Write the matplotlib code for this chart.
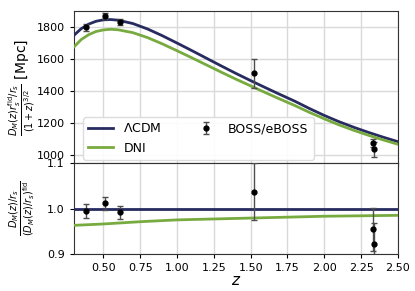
import numpy as np
import matplotlib
matplotlib.use("Agg")
from matplotlib import pyplot as plt

# curves
z_curve = [0.30, 0.35, 0.40, 0.45, 0.50, 0.55, 0.60, 0.70, 0.80, 0.90, 1.00, 1.10, 1.20,
           1.30, 1.40, 1.50, 1.60, 1.70, 1.80, 1.90, 2.00, 2.10, 2.20, 2.30, 2.40, 2.50]
lcdm_dm = [1748, 1790, 1818, 1836, 1845, 1847, 1843, 1822, 1788, 1746, 1700, 1653, 1605,
           1557, 1510, 1465, 1421, 1378, 1336, 1290, 1247, 1208, 1173, 1141, 1111, 1083]
dni_dm = [1675, 1722, 1752, 1772, 1782, 1786, 1783, 1765, 1734, 1695, 1652, 1608, 1563,
          1518, 1474, 1432, 1390, 1349, 1309, 1266, 1226, 1188, 1154, 1123, 1094, 1067]

z_ratio = [0.30, 0.50, 0.75, 1.00, 1.25, 1.50, 1.75, 2.00, 2.25, 2.50]
lcdm_ratio = [1.0, 1.0, 1.0, 1.0, 1.0, 1.0, 1.0, 1.0, 1.0, 1.0]
dni_ratio = [0.963, 0.966, 0.971, 0.975, 0.977, 0.979, 0.981, 0.983, 0.984, 0.985]

# BOSS/eBOSS points
z_data = [0.38, 0.51, 0.61, 1.52, 2.33, 2.34]
dm_data = [1798, 1868, 1833, 1510, 1073, 1035]
dm_err = [24, 20, 20, 90, 25, 45]
ratio_data = [0.994, 1.011, 0.992, 1.037, 0.954, 0.922]
ratio_err = [0.015, 0.015, 0.014, 0.062, 0.048, 0.047]

c_lcdm = '#272b5f'
c_dni = '#78ab3f'

fig = plt.figure(figsize=(4.15, 2.91), dpi=100)
ax1 = fig.add_axes([0.178, 0.44, 0.781, 0.522])
ax2 = fig.add_axes([0.178, 0.127, 0.781, 0.313], sharex=ax1)

ax1.plot(z_curve, lcdm_dm, color=c_lcdm, lw=2, label=r'$\Lambda$CDM', zorder=3)
ax1.plot(z_curve, dni_dm, color=c_dni, lw=2, label='DNI', zorder=3)
ax1.errorbar(z_data, dm_data, yerr=dm_err, fmt='o', color='k', ecolor='0.3',
             ms=3.5, capsize=2, elinewidth=1, label='BOSS/eBOSS', zorder=4)

ax2.plot(z_ratio, lcdm_ratio, color=c_lcdm, lw=2, zorder=3)
ax2.plot(z_ratio, dni_ratio, color=c_dni, lw=2, zorder=3)
ax2.errorbar(z_data, ratio_data, yerr=ratio_err, fmt='o', color='k', ecolor='0.3',
             ms=3.5, capsize=2, elinewidth=1, zorder=4)

ax1.set_xlim(0.3, 2.5)
ax1.set_ylim(950, 1900)
ax1.set_yticks([1000, 1200, 1400, 1600, 1800])
ax2.set_ylim(0.9, 1.1)
ax2.set_yticks([0.9, 1.0, 1.1])
ax2.set_xticks([0.5, 0.75, 1.0, 1.25, 1.5, 1.75, 2.0, 2.25, 2.5])
ax2.set_xticklabels(['0.50', '0.75', '1.00', '1.25', '1.50', '1.75', '2.00', '2.25', '2.50'])
plt.setp(ax1.get_xticklabels(), visible=False)

for ax in (ax1, ax2):
    ax.grid(True, color='0.85', lw=1)
    ax.set_axisbelow(True)
    ax.tick_params(labelsize=8, length=3)
    for s in ax.spines.values():
        s.set_color('0.2')

ax1.set_ylabel(r'$\frac{D_M(z)r_s^{\rm fid}/r_s}{(1+z)^{3/2}}$ [Mpc]', fontsize=10)
ax2.set_ylabel(r'$\frac{D_M(z)/r_s}{(D_M(z)/r_s)^{\rm fid}}$', fontsize=10)
ax2.set_xlabel(r'$z$', fontsize=11, labelpad=0)
ax1.yaxis.set_label_coords(-0.115, 0.5)
ax2.yaxis.set_label_coords(-0.115, 0.5)

ax1.legend(loc='lower left', ncol=2, fontsize=9, frameon=True, framealpha=0.9,
           edgecolor='0.85', bbox_to_anchor=(0.01, -0.02), columnspacing=2.5)

fig.savefig('out.png', dpi=100)
